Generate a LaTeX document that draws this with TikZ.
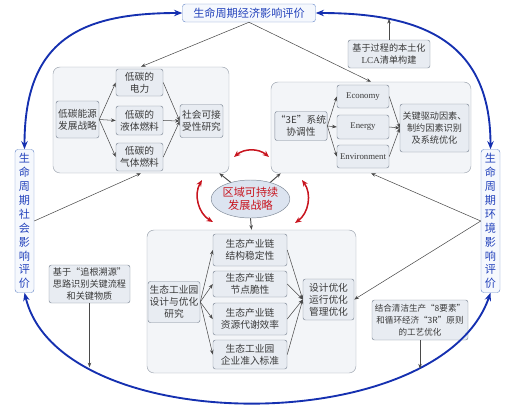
\documentclass[tikz,border=0pt]{standalone}
\usepackage{xcolor}
\usepackage{fontspec}
\setmainfont{Liberation Serif}
\newfontfamily\cjk{Noto Sans CJK SC}
\usepackage{tikz}
\usetikzlibrary{shapes.geometric,arrows.meta}
\definecolor{BoxFill}{HTML}{E8ECF2}
\definecolor{BoxLine}{HTML}{7D8795}
\definecolor{PanelFill}{HTML}{F3F5F8}
\definecolor{PanelLine}{HTML}{9AA2AD}
\definecolor{TitleFill}{HTML}{F5F8FD}
\definecolor{TitleLine}{HTML}{7090CC}
\definecolor{TitleText}{HTML}{2443BC}
\definecolor{CycleBlue}{HTML}{1530B0}
\definecolor{HubRed}{HTML}{C8141E}
\definecolor{HubFill}{HTML}{DCE4F0}
\definecolor{TextDark}{HTML}{3A3A3A}
\definecolor{LinkGray}{HTML}{4A4A4A}

\begin{document}
\begin{tikzpicture}[x=0.03cm,y=-0.03cm,
  wh/.style 2 args={minimum width=#1*0.03cm,minimum height=#2*0.03cm},
  panel/.style={draw=PanelLine,fill=PanelFill,rounded corners=6pt,inner sep=0pt},
  card/.style={draw=BoxLine,fill=BoxFill,rounded corners=2pt,align=center,inner sep=1pt,text=TextDark,font=\cjk\fontsize{8.3}{10.2}\selectfont},
  engcard/.style={card,font=\rmfamily\fontsize{7.5}{9}\selectfont},
  smallcard/.style={card,font=\cjk\fontsize{7.8}{10.4}\selectfont},
  titlebox/.style={draw=TitleLine,fill=TitleFill,rounded corners=2.5pt,align=center,inner sep=0pt,text=TitleText,font=\cjk\fontsize{9.5}{11.2}\selectfont},
  vertbox/.style={titlebox,font=\cjk\fontsize{9.5}{11.9}\selectfont},
  hubshape/.style={ellipse,draw=BoxLine,fill=HubFill,align=center,inner sep=0pt,text=HubRed,font=\cjk\fontsize{9.5}{11.5}\selectfont},
  thinArrow/.style={draw=LinkGray,line width=0.45pt,arrows={-Stealth[length=4pt,width=3pt]}},
  cycleArc/.style={draw=CycleBlue,line width=1.6pt,arrows={Stealth[length=7pt,width=5.5pt]-Stealth[length=7pt,width=5.5pt]}},
  hubArc/.style={draw=HubRed,line width=1.3pt,arrows={Stealth[length=5.5pt,width=4.5pt]-Stealth[length=5.5pt,width=4.5pt]}}]
\path[use as bounding box] (0,0) rectangle (509,408);

\node[panel,wh={176}{106}] (gLow) at (141,120) {};
\node[panel,wh={200}{91}] (gE) at (371,127.5) {};
\node[panel,wh={209}{143}] (gEco) at (251.5,301.5) {};

\node[titlebox,wh={133}{18}] (econLCA) at (249,13) {生命周期经济影响评价};
\node[vertbox,wh={19}{143}] (socLCA) at (24.5,221) {生\\命\\周\\期\\社\\会\\影\\响\\评\\价};
\node[vertbox,wh={19}{143}] (envLCA) at (490.5,221) {生\\命\\周\\期\\环\\境\\影\\响\\评\\价};

\node[card,wh={43}{37}] (lowStrat) at (77.5,119.5) {低碳能源\\发展战略};
\node[card,wh={47}{27}] (elec) at (139.5,82.5) {低碳的\\电力};
\node[card,wh={47}{29}] (liquid) at (139.5,120.5) {低碳的\\液体燃料};
\node[card,wh={47}{28}] (gas) at (139.5,157) {低碳的\\气体燃料};
\node[card,wh={43}{33}] (social) at (201.5,121) {社会可接\\受性研究};

\node[card,wh={52}{29}] (threeE) at (301,126) {“3E”系统\\协调性};
\node[engcard,wh={52}{23}] (econ) at (363,96.5) {Economy};
\node[engcard,wh={52}{24}] (energy) at (363,127) {Energy};
\node[engcard,wh={52}{23}] (env) at (363,156.5) {Environment};
\node[smallcard,wh={69}{48}] (driver) at (434.5,128) {关键驱动因素、\\制约因素识别\\及系统优化};

\node[smallcard,wh={82}{28}] (lca) at (389,54) {基于过程的本土化\\{\rmfamily LCA}清单构建};
\node[hubshape,wh={75}{38}] (hub) at (250.5,199) {区域可持续\\发展战略};

\node[card,wh={52}{41}] (park) at (174,302) {生态工业园\\设计与优化\\研究};
\node[card,wh={74}{32}] (chainA) at (250,250) {生态产业链\\结构稳定性};
\node[card,wh={74}{26}] (chainB) at (250,284) {生态产业链\\节点脆性};
\node[card,wh={74}{32}] (chainC) at (250,319) {生态产业链\\资源代谢效率};
\node[card,wh={74}{29}] (chainD) at (250,354.5) {生态工业园\\企业准入标准};
\node[card,wh={51}{41}] (opt) at (328.5,299.5) {设计优化\\运行优化\\管理优化};

\node[smallcard,wh={81}{38}] (trace) at (89.5,284) {基于“追根溯源”\\思路识别关键流程\\和关键物质};
\node[card,wh={96}{40},font=\cjk\fontsize{7.3}{10.2}\selectfont] (clean) at (420,320) {结合清洁生产“8要素”\\和循环经济“3R”原则\\的工艺优化};

\draw[cycleArc] (socLCA.north) .. controls (24.5,40) and (80,13) .. (econLCA.west);
\draw[cycleArc] (envLCA.north) .. controls (490.5,40) and (420,13) .. (econLCA.east) coordinate[pos=0.75] (lcaHit);
\draw[cycleArc] (socLCA.south) .. controls (60,439) and (440,439) .. (envLCA.south) coordinate[pos=0.217] (traceHit) coordinate[pos=0.778] (cleanHit);

\foreach \m in {elec,liquid,gas} {
  \draw[thinArrow] (lowStrat.east) -- (\m.west);
  \draw[thinArrow] (\m.east) -- (social.west);
}
\foreach \m in {econ,energy,env} {
  \draw[thinArrow] (threeE.east) -- (\m.west);
  \draw[thinArrow] (\m.east) -- (driver.west);
}
\foreach \m in {chainA,chainB,chainC,chainD} {
  \draw[thinArrow] (park.east) -- (\m.west);
  \draw[thinArrow] (\m.east) -- (opt.west);
}

\draw[thinArrow] (econLCA.south) -- (gLow.north);
\draw[thinArrow] (econLCA.south) -- (gE.north);
\draw[thinArrow] (lca.north) -- (lca.north |- lcaHit);
\draw[thinArrow] (socLCA.east) -- (gLow.south);
\draw[thinArrow] (envLCA.west) -- (gE.south);
\draw[thinArrow] (envLCA.west) -- (opt.east);
\draw[thinArrow] (trace.south) -- (trace.south |- traceHit);
\draw[thinArrow] (clean.south) -- (clean.south |- cleanHit);

\draw[thinArrow,line width=0.8pt] (hub.140) -- ([xshift=-0.3cm]gLow.south east);
\draw[thinArrow,line width=0.8pt] (hub.40) -- ([xshift=0.3cm]gE.south west);
\draw[thinArrow,line width=0.8pt] (hub.south) -- (gEco.north);

\coordinate (arcTopL) at (234,157);
\coordinate (arcTopR) at (269,157);
\coordinate (arcLeftA) at (202,180);
\coordinate (arcLeftB) at (213,222);
\coordinate (arcRightA) at (302,180);
\coordinate (arcRightB) at (295,223);
\draw[hubArc] (arcTopL) to[bend left=40] (arcTopR);
\draw[hubArc] (arcLeftA) to[bend right=45] (arcLeftB);
\draw[hubArc] (arcRightA) to[bend left=45] (arcRightB);
\end{tikzpicture}
\end{document}
